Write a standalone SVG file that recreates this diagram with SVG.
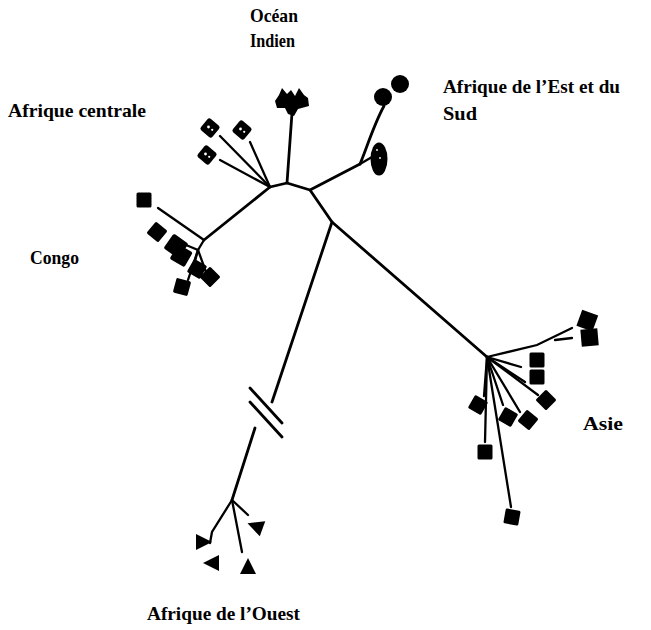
<svg xmlns="http://www.w3.org/2000/svg" width="651" height="630" viewBox="0 0 651 630">
  <style>
    .edge { stroke: #000; stroke-width: 2.8; fill: none; stroke-linecap: round; stroke-linejoin: round; }
    .twig { stroke: #000; stroke-width: 2.3; fill: none; stroke-linecap: round; }
    .tip { fill: #000; }
    .spot { fill: #fff; }
    .label { font-family: "Liberation Serif", "Times New Roman", serif; font-weight: bold; font-size: 19px; fill: #000; }
  </style>
  <defs>
    <g id="sq"><rect x="-7.5" y="-7.5" width="15" height="15" rx="1.5" class="tip"/></g>
    <g id="flower">
      <rect x="-7.5" y="-7.5" width="15" height="15" rx="2.5" class="tip" transform="rotate(40)"/>
      <circle cx="-1.5" cy="-1" r="1.4" class="spot"/>
      <circle cx="2.2" cy="1.8" r="1.1" class="spot"/>
    </g>
    <g id="tri"><polygon points="-8,-8 8,0 -8,8" class="tip"/></g>
  </defs>

  <rect width="651" height="630" fill="#fff"/>

  <g id="connectors">
    <!-- backbone -->
    <polyline class="edge" points="270,187 287,183 310,190 332,222 487,357"/>
    <!-- Congo stem -->
    <polyline class="edge" points="270,187 204,240"/>
    <!-- Ocean Indien stem -->
    <line class="edge" x1="287" y1="183" x2="292" y2="113"/>
    <!-- East / South Africa -->
    <polyline class="edge" points="310,190 360,164"/>
    <path class="edge" d="M360,164 C366,150 374,124 384,106"/>
    <line class="twig" x1="360" y1="164" x2="372" y2="157"/>
    <!-- Central Africa twigs -->
    <line class="twig" x1="270" y1="187" x2="220" y2="136"/>
    <line class="twig" x1="270" y1="187" x2="250" y2="142"/>
    <line class="twig" x1="270" y1="187" x2="220" y2="160"/>
    <!-- Congo twigs -->
    <line class="twig" x1="204" y1="240" x2="158" y2="208"/>
    <line class="twig" x1="204" y1="240" x2="198" y2="250"/>
    <line class="twig" x1="198" y1="250" x2="186" y2="245"/>
    <line class="twig" x1="198" y1="250" x2="192" y2="272"/>
    <line class="twig" x1="198" y1="250" x2="188" y2="280"/>
    <line class="twig" x1="198" y1="250" x2="206" y2="272"/>
    <!-- West Africa, broken branch -->
    <line class="edge" x1="332" y1="222" x2="272" y2="402"/>
    <line class="edge" x1="250" y1="388" x2="282" y2="423"/>
    <line class="edge" x1="250" y1="402" x2="282" y2="437"/>
    <line class="edge" x1="255" y1="428" x2="232" y2="500"/>
    <line class="twig" x1="232" y1="500" x2="248" y2="515"/>
    <polyline class="twig" points="232,500 212,532 210,543"/>
    <line class="twig" x1="232" y1="500" x2="242" y2="552"/>
    <!-- Asia twigs -->
    <polyline class="twig" points="487,357 537,345 572,328"/>
    <line class="twig" x1="555" y1="340" x2="572" y2="338"/>
    <line class="twig" x1="487" y1="357" x2="521" y2="367"/>
    <line class="twig" x1="487" y1="357" x2="525" y2="382"/>
    <line class="twig" x1="487" y1="357" x2="538" y2="395"/>
    <line class="twig" x1="487" y1="357" x2="520" y2="412"/>
    <line class="twig" x1="487" y1="357" x2="503" y2="405"/>
    <line class="twig" x1="487" y1="357" x2="484" y2="396"/>
    <line class="twig" x1="487" y1="357" x2="485" y2="442"/>
    <line class="twig" x1="487" y1="357" x2="511" y2="507"/>
  </g>

  <g id="afrique-centrale">
    <use href="#flower" x="210" y="128"/>
    <use href="#flower" x="242" y="130"/>
    <use href="#flower" x="207" y="155"/>
  </g>

  <g id="ocean-indien">
    <polygon class="tip" points="275,101 279,95 282,88 287,94 291,90 295,96 299,88 304,95 308,98 309,106 298,109 294,116 288,114 285,108 277,108"/>
  </g>

  <g id="afrique-est-sud">
    <circle class="tip" cx="400" cy="84" r="9"/>
    <circle class="tip" cx="383" cy="97" r="9"/>
    <ellipse class="tip" cx="379" cy="159" rx="8.5" ry="16.5"/>
    <circle class="spot" cx="377" cy="150" r="0.9"/>
    <circle class="spot" cx="380" cy="158" r="0.9"/>
  </g>

  <g id="congo">
    <use href="#sq" x="144" y="200"/>
    <use href="#sq" x="157" y="232" transform="rotate(40 157 232)"/>
    <rect class="tip" x="167" y="237" width="18" height="18" rx="2" transform="rotate(35 176 246)"/>
    <rect class="tip" x="173" y="247" width="17" height="17" rx="2" transform="rotate(30 181 255)"/>
    <use href="#sq" x="197" y="269" transform="rotate(30 197 269)"/>
    <use href="#sq" x="210" y="277" transform="rotate(45 210 277)"/>
    <use href="#sq" x="182" y="287" transform="rotate(15 182 287)"/>
  </g>

  <g id="asie">
    <rect class="tip" x="579" y="312" width="17" height="17" transform="rotate(20 587 320)"/>
    <rect class="tip" x="581" y="329" width="17" height="17" transform="rotate(-5 589 337)"/>
    <use href="#sq" x="537" y="360"/>
    <use href="#sq" x="537" y="377"/>
    <use href="#sq" x="546" y="400" transform="rotate(45 546 400)"/>
    <use href="#sq" x="528" y="420" transform="rotate(40 528 420)"/>
    <use href="#sq" x="508" y="417" transform="rotate(30 508 417)"/>
    <use href="#sq" x="478" y="405" transform="rotate(30 478 405)"/>
    <use href="#sq" x="485" y="452"/>
    <use href="#sq" x="512" y="517" transform="rotate(10 512 517)"/>
  </g>

  <g id="afrique-ouest">
    <use href="#tri" x="204" y="542"/>
    <use href="#tri" x="211" y="563" transform="rotate(180 211 563)"/>
    <use href="#tri" x="255" y="526" transform="rotate(200 255 526)"/>
    <use href="#tri" x="248" y="566" transform="rotate(-90 248 566)"/>
  </g>

  <g id="labels">
    <text class="label" x="250" y="22" textLength="48" lengthAdjust="spacingAndGlyphs">Océan</text>
    <text class="label" x="250" y="47" textLength="45" lengthAdjust="spacingAndGlyphs">Indien</text>
    <text class="label" x="8" y="117" textLength="138" lengthAdjust="spacingAndGlyphs">Afrique centrale</text>
    <text class="label" x="443" y="93" textLength="177" lengthAdjust="spacingAndGlyphs">Afrique de l’Est et du</text>
    <text class="label" x="443" y="120" textLength="34" lengthAdjust="spacingAndGlyphs">Sud</text>
    <text class="label" x="30" y="264" textLength="49" lengthAdjust="spacingAndGlyphs">Congo</text>
    <text class="label" x="583" y="430" textLength="40" lengthAdjust="spacingAndGlyphs">Asie</text>
    <text class="label" x="147" y="620" textLength="153" lengthAdjust="spacingAndGlyphs">Afrique de l’Ouest</text>
  </g>
</svg>
